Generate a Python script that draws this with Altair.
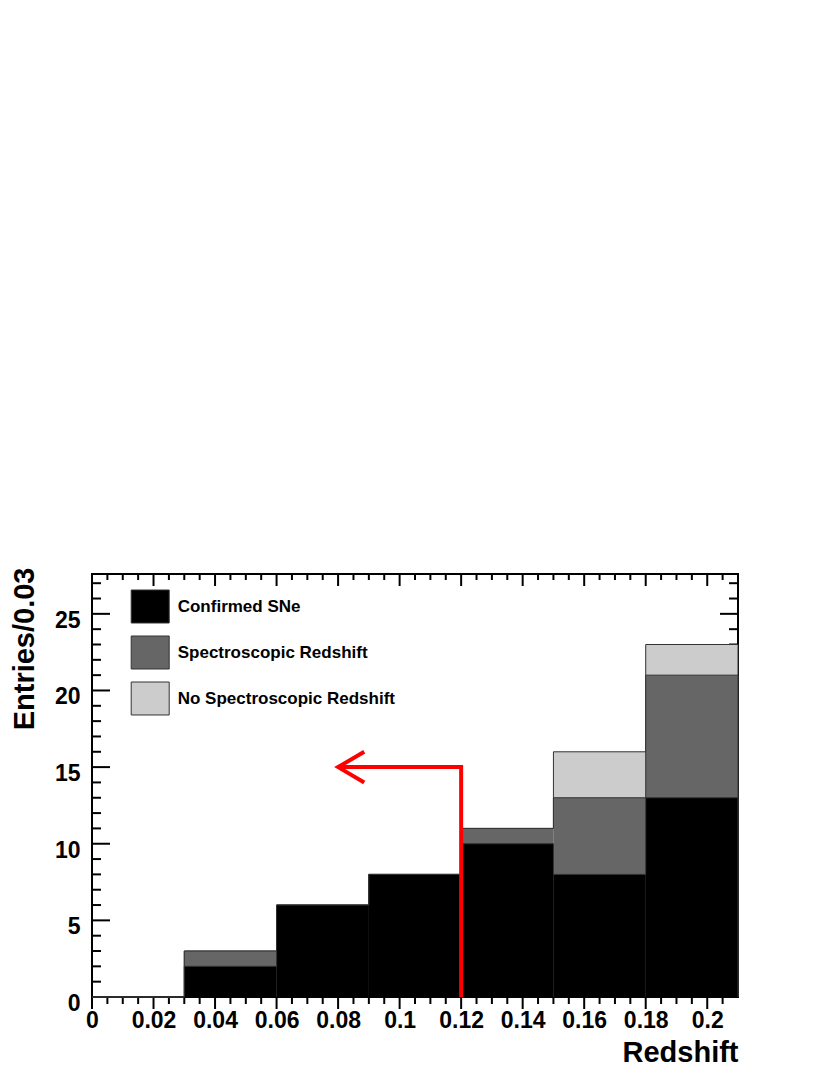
import altair as alt
import pandas as pd

# ---------------- data ----------------
bin_lo = [0.00, 0.03, 0.06, 0.09, 0.12, 0.15, 0.18]
bin_hi = [0.03, 0.06, 0.09, 0.12, 0.15, 0.18, 0.21]
confirmed_sne = [0, 2, 6, 8, 10, 8, 13]
spectroscopic_total = [0, 3, 6, 8, 11, 13, 21]
no_spectroscopic_total = [0, 3, 6, 8, 11, 16, 23]
categories = ["Confirmed SNe", "Spectroscopic Redshift", "No Spectroscopic Redshift"]
fill_colors = ["#000000", "#666666", "#cccccc"]

x_label_values = [0, 0.02, 0.04, 0.06, 0.08, 0.1, 0.12, 0.14, 0.16, 0.18, 0.2]
y_label_values = [0, 5, 10, 15, 20, 25]
x_minor_ticks = [round(i * 0.005, 3) for i in range(1, 42) if i % 4 != 0]
y_minor_ticks = [i for i in range(1, 28) if i % 5 != 0]

cut_line_x = [0.12, 0.12, 0.08]
cut_line_y = [0, 15, 15]
arrow_head_x = [0.0885, 0.08, 0.0885]
arrow_head_y = [16, 15, 14]

X_DOMAIN = [0, 0.21]
Y_DOMAIN = [0, 27.6]
W, H = 646, 423
FONT = "Liberation Sans"

xs = alt.Scale(domain=X_DOMAIN, nice=False, zero=False)
ys = alt.Scale(domain=Y_DOMAIN, nice=False, zero=False)
color_scale = alt.Scale(domain=categories, range=fill_colors)

legend = alt.Legend(title=None, orient="none", legendX=38.7, legendY=13,
                    symbolType="M-1,-0.868H1V0.868H-1Z", symbolSize=1444,
                    symbolStrokeColor="#333333", symbolStrokeWidth=1,
                    symbolOpacity=1, labelFont=FONT, labelFontSize=17,
                    labelFontWeight="bold", labelColor="black",
                    labelOffset=8, rowPadding=8, padding=0, labelLimit=400)

x_axis = alt.Axis(values=x_label_values, format=".2~f", title="Redshift",
                  ticks=False, tickSize=0, domain=False, grid=False,
                  labelFlush=False, labelOverlap=False,
                  labelPadding=30, labelBaseline="alphabetic",
                  titleX=W, titleY=64, titleAlign="right",
                  titleBaseline="alphabetic", titleAngle=0)
y_axis = alt.Axis(values=y_label_values, title="Entries/0.03",
                  ticks=False, tickSize=0, domain=False, grid=False,
                  labelFlush=False, labelOverlap=False,
                  labelPadding=12, labelAlign="right", labelBaseline="alphabetic",
                  labelOffset=13.5,
                  titleX=-59, titleY=-7, titleAlign="right",
                  titleBaseline="alphabetic", titleAngle=270)


def X(field):
    return alt.X(field, scale=xs, axis=x_axis)


def Y(field):
    return alt.Y(field, scale=ys, axis=y_axis)


def xticks(vals, y0, y1):
    return alt.Chart(pd.DataFrame({"t": vals})).mark_rule(color="black", strokeWidth=2).encode(
        x=X("t:Q"), y=alt.value(y0), y2=alt.value(y1))


def yticks(vals, x0, x1):
    return alt.Chart(pd.DataFrame({"t": vals})).mark_rule(color="black", strokeWidth=2).encode(
        y=Y("t:Q"), x=alt.value(x0), x2=alt.value(x1))


ticks = [
    xticks(x_label_values, 0, 12), xticks(x_minor_ticks, 0, 6),
    xticks(x_label_values, H, H + 12), xticks(x_minor_ticks, H, H + 7),
    yticks(y_label_values, 0, 18), yticks(y_minor_ticks, 0, 9),
    yticks(y_label_values, W, W - 18), yticks(y_minor_ticks, W, W - 9),
]


def histogram(cat, vals):
    df = pd.DataFrame({"cat": cat, "lo": bin_lo, "hi": bin_hi, "v": vals, "base": 0})
    fill = alt.Chart(df).mark_rect(strokeWidth=0).encode(
        x=X("lo:Q"), x2="hi:Q", y=Y("v:Q"), y2="base:Q",
        color=alt.Color("cat:N", scale=color_scale, legend=legend))
    # outline as a step path (histogram contour)
    ox = list(bin_lo) + [bin_hi[-1], bin_hi[-1]]
    oy = list(vals) + [vals[-1], 0]
    odf = pd.DataFrame({"x": ox, "y": oy, "o": list(range(len(ox)))})
    outline = alt.Chart(odf).mark_line(color="#333333", strokeWidth=1,
                                       interpolate="step-after").encode(
        x=X("x:Q"), y=Y("y:Q"), order=alt.Order("o:Q"))
    return [fill, outline]


hists = (histogram(categories[2], no_spectroscopic_total)
         + histogram(categories[1], spectroscopic_total)
         + histogram(categories[0], confirmed_sne))

cut_df = pd.DataFrame({"x": cut_line_x, "y": cut_line_y, "o": [0, 1, 2]})
head_df = pd.DataFrame({"x": arrow_head_x, "y": arrow_head_y, "o": [0, 1, 2]})

cut_line = alt.Chart(cut_df).mark_line(color="#ff0000", strokeWidth=4, strokeCap="butt",
                                        strokeJoin="miter").encode(
    x=X("x:Q"), y=Y("y:Q"), order=alt.Order("o:Q"))
arrow_head = alt.Chart(head_df).mark_line(color="#ff0000", strokeWidth=4, strokeCap="butt",
                                          strokeJoin="miter").encode(
    x=X("x:Q"), y=Y("y:Q"), order=alt.Order("o:Q"))

chart = alt.layer(*ticks, *hists, cut_line, arrow_head).properties(
    width=W, height=H,
    autosize=alt.AutoSizeParams(type="none"),
    padding={"left": 84, "top": 566, "right": 84, "bottom": 74},
    background="white",
).configure_view(stroke="black", strokeWidth=2).configure_axis(
    labelFont=FONT, labelFontSize=23, labelFontWeight="bold", labelColor="black",
    titleFont=FONT, titleFontSize=29, titleFontWeight="bold", titleColor="black",
)

chart.save("out.html", embed_options={"renderer": "svg", "actions": False})
